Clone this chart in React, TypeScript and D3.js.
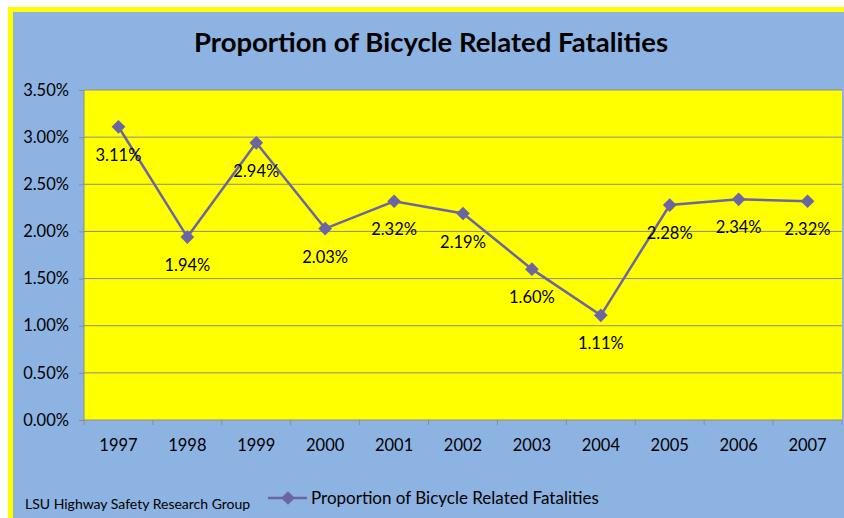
import { useEffect, useRef } from "react";
import * as d3 from "d3";

const years = ["1997","1998","1999","2000","2001","2002","2003","2004","2005","2006","2007"];
const shares = [3.11, 1.94, 2.94, 2.03, 2.32, 2.19, 1.60, 1.11, 2.28, 2.34, 2.32];
const yTicks = [0, 0.5, 1, 1.5, 2, 2.5, 3, 3.5];

const TITLE = "Proportion of Bicycle Related Fatalities";
const SERIES = "Proportion of Bicycle Related Fatalities";
const CREDIT = "LSU Highway Safety Research Group";

const FONT = "Lato, 'Open Sans', sans-serif";
const BLUE = "#8db3e2";
const YELLOW = "#ffff00";
const LINE = "#6b66a3";
const GRID = "#8c8c8c";

export default function App() {
  const ref = useRef<SVGSVGElement>(null);

  useEffect(() => {
    const svg = d3.select(ref.current);
    svg.selectAll("*").remove();
    const W = 844, H = 518;

    // frame: yellow border, blue chart area
    svg.append("rect").attr("x", 8).attr("y", 7).attr("width", W - 8).attr("height", H - 7).attr("fill", YELLOW);
    svg.append("rect").attr("x", 13).attr("y", 12).attr("width", W - 13).attr("height", H - 12).attr("fill", BLUE);

    const plot = { left: 84, top: 90, right: 842, bottom: 420 };
    const x = d3.scaleBand().domain(years).range([plot.left, plot.right]);
    const y = d3.scaleLinear().domain([0, 3.5]).range([plot.bottom, plot.top]);

    svg.append("rect")
      .attr("x", plot.left).attr("y", plot.top)
      .attr("width", plot.right - plot.left).attr("height", plot.bottom - plot.top)
      .attr("fill", YELLOW);

    // gridlines
    svg.append("g").selectAll("line").data(yTicks.filter(d => d > 0)).enter().append("line")
      .attr("x1", plot.left).attr("x2", plot.right)
      .attr("y1", d => y(d)).attr("y2", d => y(d))
      .attr("stroke", GRID).attr("stroke-width", 1);

    // y axis
    const ya = svg.append("g").attr("transform", `translate(${plot.left},0)`)
      .call(d3.axisLeft(y).tickValues(yTicks).tickSize(5).tickPadding(10).tickFormat(d => `${(+d).toFixed(2)}%`));
    ya.select(".domain").attr("stroke", GRID).attr("d", `M0,${plot.top}V${plot.bottom}`);
    ya.selectAll(".tick line").attr("stroke", GRID);
    ya.selectAll("text").attr("font-family", FONT).attr("font-size", 16.5).attr("fill", "#000");

    // x axis
    const xa = svg.append("g").attr("transform", `translate(0,${plot.bottom})`)
      .call(d3.axisBottom(x).tickSize(0).tickPadding(19));
    xa.select(".domain").attr("stroke", GRID).attr("d", `M${plot.left},0H${plot.right}`);
    xa.selectAll("text").attr("font-family", FONT).attr("font-size", 16.5).attr("fill", "#000");
    svg.append("g").selectAll("line").data(years).enter().append("line")
      .attr("x1", d => x(d)!).attr("x2", d => x(d)!)
      .attr("y1", plot.bottom).attr("y2", plot.bottom + 5)
      .attr("stroke", GRID);
    svg.append("line").attr("x1", plot.right).attr("x2", plot.right)
      .attr("y1", plot.bottom).attr("y2", plot.bottom + 5).attr("stroke", GRID);

    const cx = (d: string) => x(d)! + x.bandwidth() / 2;
    const pts = years.map((yr, i) => ({ yr, v: shares[i] }));

    // series line
    svg.append("path").datum(pts)
      .attr("d", d3.line<{ yr: string; v: number }>().x(d => cx(d.yr)).y(d => y(d.v)))
      .attr("fill", "none").attr("stroke", LINE).attr("stroke-width", 2.5);

    const diamond = d3.symbol().type(d3.symbolDiamond2).size(120);
    svg.append("g").selectAll("path").data(pts).enter().append("path")
      .attr("d", diamond)
      .attr("transform", d => `translate(${cx(d.yr)},${y(d.v)})`)
      .attr("fill", LINE);

    // data labels below points
    svg.append("g").selectAll("text").data(pts).enter().append("text")
      .attr("x", d => cx(d.yr)).attr("y", d => y(d.v) + 34)
      .attr("text-anchor", "middle")
      .attr("font-family", FONT).attr("font-size", 16.5).attr("fill", "#000")
      .text(d => `${d.v.toFixed(2)}%`);

    // title
    svg.append("text").attr("x", 431).attr("y", 52).attr("text-anchor", "middle")
      .attr("font-family", FONT).attr("font-size", 27.5).attr("font-weight", 700).attr("fill", "#000")
      .text(TITLE);

    // legend
    svg.append("line").attr("x1", 268).attr("x2", 307).attr("y1", 498).attr("y2", 498)
      .attr("stroke", LINE).attr("stroke-width", 2.5);
    svg.append("path").attr("d", diamond).attr("transform", "translate(288,498)").attr("fill", LINE);
    svg.append("text").attr("x", 311).attr("y", 504)
      .attr("font-family", FONT).attr("font-size", 17).attr("fill", "#000").text(SERIES);

    // credit
    svg.append("text").attr("x", 25).attr("y", 509)
      .attr("font-family", FONT).attr("font-size", 14).attr("fill", "#000").text(CREDIT);
  }, []);

  return (
    <svg ref={ref} width={844} height={518}
      style={{ position: "absolute", left: 0, top: 0, display: "block" }} />
  );
}
